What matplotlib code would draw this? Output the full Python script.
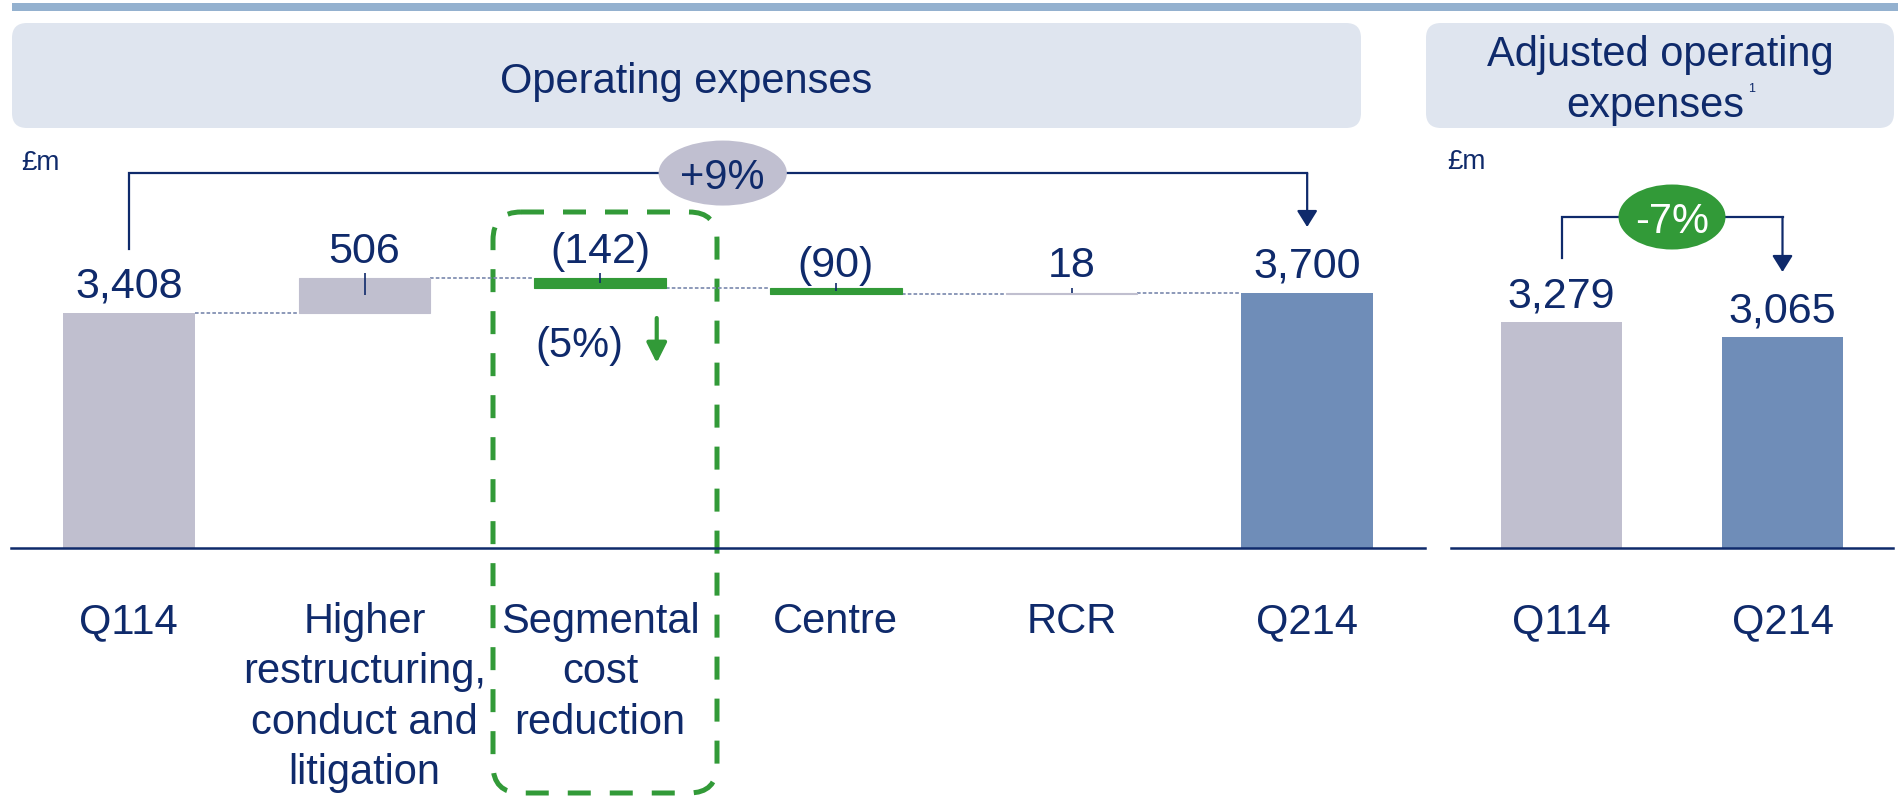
import matplotlib.pyplot as plt
from matplotlib.patches import FancyBboxPatch, Ellipse, Rectangle
import numpy as np

plt.rcParams['font.family'] = ['Liberation Sans', 'DejaVu Sans']

# --- data -------------------------------------------------------------
steps = ['Q114', 'Higher\nrestructuring,\nconduct and\nlitigation',
         'Segmental\ncost\nreduction', 'Centre', 'RCR', 'Q214']
start_value = 3408
changes = [506, -142, -90, 18]
end_value = 3700

adj_periods = ['Q114', 'Q214']
adj_values = [3279, 3065]

segment_note = '(5%)'

# --- style -------------------------------------------------------------
NAVY = '#0f2a6b'
GREY = '#c0bfcf'
BLUE = '#6f8db8'
GREEN = '#329a38'
LINK = '#8391b3'
PANEL = '#dfe5ef'
RULE = '#94b1cf'

W, H = 1898, 797
PX = 0.069          # pixels per £m
YTOP = 408 / PX     # axes top (value units)

fig = plt.figure(figsize=(W / 100, H / 100), dpi=100)

# background layer in pixel coords: rule, header panels, headings
bg = fig.add_axes([0, 0, 1, 1])
bg.set_xlim(0, W)
bg.set_ylim(H, 0)
bg.axis('off')
bg.add_patch(Rectangle((12, 3), W - 12, 8, color=RULE, lw=0))
for x0, x1 in [(12, 1361), (1426, 1894)]:
    r = 15
    bg.add_patch(FancyBboxPatch((x0 + r, 23 + r), x1 - x0 - 2 * r, 105 - 2 * r,
                                boxstyle='round,pad=%d' % r, fc=PANEL, ec='none'))
bg.text(686, 93, 'Operating expenses', ha='center', va='baseline',
        fontsize=30, color=NAVY)
bg.text(1660, 66, 'Adjusted operating', ha='center', va='baseline',
        fontsize=30, color=NAVY)
bg.text(1655, 117, 'expenses', ha='center', va='baseline', fontsize=30, color=NAVY)
bg.text(1748, 92, '1', ha='left', va='baseline', fontsize=9, color=NAVY)
bg.text(21, 170, '£m', ha='left', va='baseline', fontsize=20, color=NAVY)
bg.text(1447, 169, '£m', ha='left', va='baseline', fontsize=20, color=NAVY)

# dashed highlight around segmental cost reduction
r = 28
bg.add_patch(FancyBboxPatch((493 + r, 212 + r), 224 - 2 * r, 581 - 2 * r,
                            boxstyle='round,pad=%d' % r, fill=False, ec=GREEN,
                            lw=3.6, ls=(0, (4.6, 3.8))))


def style_axes(a):
    a.set_facecolor('none')
    for s in ['top', 'right', 'left']:
        a.spines[s].set_visible(False)
    a.spines['bottom'].set_color(NAVY)
    a.spines['bottom'].set_linewidth(1.8)
    a.set_yticks([])
    a.tick_params(axis='x', length=0, pad=39)


def bracket(a, x0, x1, y, y0, y1, badge, fc, tc, ew, xc):
    a.plot([x0, x0, x1], [y0, y, y], color=NAVY, lw=1.6, solid_joinstyle='miter', zorder=2)
    a.annotate('', xy=(x1, y1), xytext=(x1, y),
               arrowprops=dict(arrowstyle='-|>,head_length=0.4,head_width=0.25',
                               color=NAVY, lw=1.6, mutation_scale=25,
                               shrinkA=0, shrinkB=0), zorder=2)
    a.add_patch(Ellipse((xc, y), ew, 65 / PX, fc=fc, ec='none', zorder=3))
    a.text(xc, y, badge, ha='center', va='center_baseline',
           fontsize=30, color=tc, zorder=4)


# --- waterfall ------------------------------------------------------------
ax = fig.add_axes([11 / W, 1 - 548 / H, (1425 - 11) / W, 408 / H])
style_axes(ax)
ax.set_xlim(-0.5, 5.5)
ax.set_ylim(0, YTOP)

bw = 0.56
x = np.arange(len(steps))
levels = start_value + np.concatenate([[0], np.cumsum(changes)])
prev, cur = levels[:-1], levels[1:]
bottoms = np.minimum(prev, cur)
heights = np.abs(changes)
ccolors = [GREY if c > 0 else GREEN for c in changes]

ax.bar(x[0], start_value, bw, color=GREY, zorder=2)
ax.bar(x[1:-1], heights, bw, bottom=bottoms, color=ccolors, ec=ccolors, lw=0.8, zorder=2)
ax.bar(x[-1], end_value, bw, color=BLUE, zorder=2)

# connectors between bars
for i, lv in enumerate(levels):
    ax.plot([x[i] + bw / 2, x[i + 1] - bw / 2], [lv, lv], color=LINK, lw=1.3,
            ls=(0, (2, 1.2)), zorder=1)

# small centre marks on floating bars
tops = bottoms + heights
ax.vlines(x[1:-1], bottoms + heights / 2, tops + 5 / PX, color=NAVY, lw=1.2, zorder=3)

labels = ['{:,}'.format(start_value)] + \
         [str(c) if c > 0 else '({})'.format(-c) for c in changes] + \
         ['{:,}'.format(end_value)]
label_y = [start_value] + list(tops) + [end_value]
for i, (lbl, yv) in enumerate(zip(labels, label_y)):
    off = 8 if lbl == '(90)' else 11
    ax.annotate(lbl, (x[i], yv), xytext=(0, off), textcoords='offset points',
                ha='center', va='baseline', fontsize=31, color=NAVY)

ax.set_xticks(x)
ax.set_xticklabels(steps, fontsize=30, color=NAVY, linespacing=1.33)

pct = round((end_value / start_value - 1) * 100)
bracket(ax, x[0], x[-1], max(levels) + 1520, start_value + 925, end_value + 952,
        '{:+d}%'.format(pct), '#c0bfd0', NAVY, 128 / 235.2, 2.52)

# segmental cost note
ax.text(1.913, 2768, segment_note, ha='center', va='baseline', fontsize=30, color=NAVY)
ax.annotate('', xy=(2.24, 2681), xytext=(2.24, 3333),
            arrowprops=dict(arrowstyle='-|>,head_length=0.6,head_width=0.3',
                            color=GREEN, lw=3, mutation_scale=20,
                            shrinkA=0, shrinkB=0))

# --- adjusted ---------------------------------------------------------------
rx = fig.add_axes([1451 / W, 1 - 548 / H, 442 / W, 408 / H])
style_axes(rx)
rx.set_xlim(-0.5, 1.5)
rx.set_ylim(0, YTOP)
xa = np.arange(len(adj_periods))
rx.bar(xa, adj_values, 0.552, color=[GREY, BLUE], zorder=2)
for i, v in enumerate(adj_values):
    rx.annotate('{:,}'.format(v), (xa[i], v), xytext=(0, 10), textcoords='offset points',
                ha='center', va='baseline', fontsize=31, color=NAVY)
rx.set_xticks(xa)
rx.set_xticklabels(adj_periods, fontsize=30, color=NAVY)

adj_pct = round((adj_values[1] / adj_values[0] - 1) * 100)
bracket(rx, xa[0], xa[1], max(adj_values) + 1518, adj_values[0] + 924,
        adj_values[1] + 935, '{:d}%'.format(adj_pct), GREEN, 'white', 107 / 221, 0.5)

fig.savefig('out.png', dpi=100)
